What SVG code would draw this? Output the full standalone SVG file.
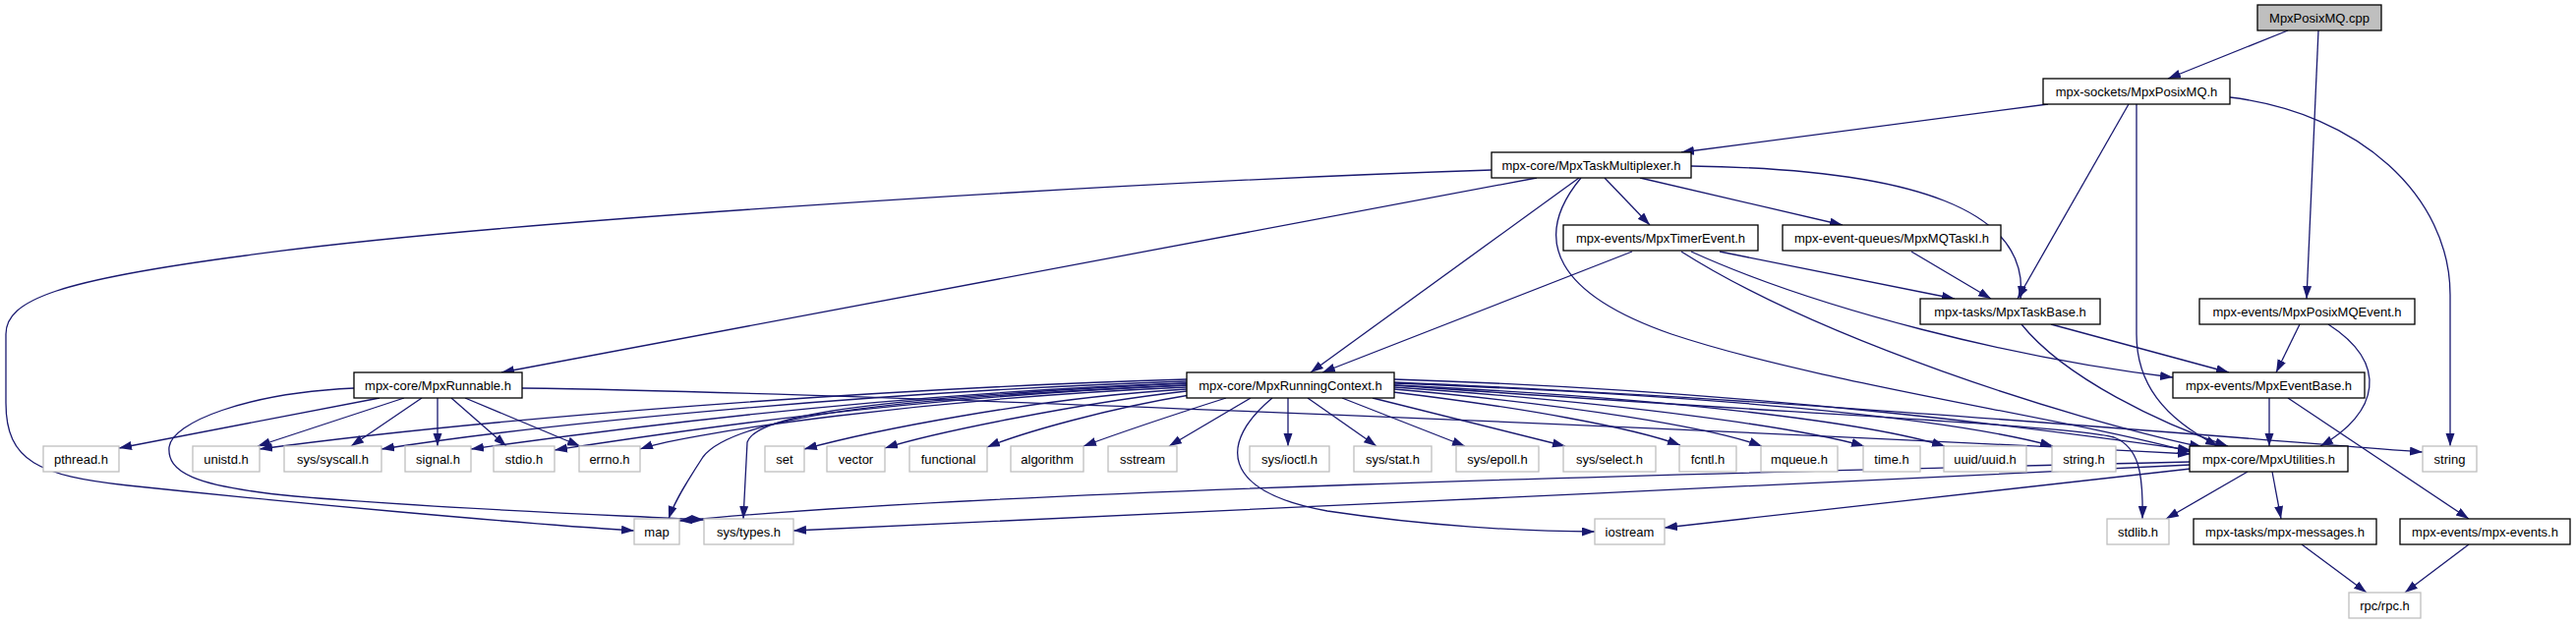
<svg xmlns="http://www.w3.org/2000/svg" width="2620" height="635" viewBox="0 0 2620 635">
<defs>
<marker id="a" markerUnits="userSpaceOnUse" markerWidth="14" markerHeight="10" refX="13" refY="4.5" orient="auto">
<path d="M0,0 L13,4.5 L0,9 z" fill="#191970"/>
</marker>
<style>
.n rect{fill:#fff;stroke:#000;stroke-width:1.3}
.r rect{fill:#bfbfbf;stroke:#000;stroke-width:1.3}
.l rect{fill:#fff;stroke:#bfbfbf;stroke-width:1.3}
text{font-family:"Liberation Sans",Arial,Helvetica,sans-serif;font-size:13px;text-anchor:middle;fill:#000}
#edges path{fill:none;stroke:#191970;stroke-width:1.3;marker-end:url(#a)}
</style>
</defs>
<rect width="2620" height="635" fill="#fff"/>
<g id="edges">
<path d="M2327,31 L2205,80"/>
<path d="M2358,31 L2346,304"/>
<path d="M2083,106 L1710,155"/>
<path d="M2165,106 L2052,304"/>
<path d="M2173,106 L2173,340 C2173,390 2200,425 2256,454"/>
<path d="M2268,99 C2400,115 2492,200 2492,300 L2492,454"/>
<path d="M1517,173 C1150,185 500,225 250,260 C60,285 6,305 6,340 L6,410 C6,470 40,484 130,494 C300,512 520,532 645,540"/>
<path d="M1563,181 L510,379"/>
<path d="M1606,181 L1333,379"/>
<path d="M1632,181 L1678,229"/>
<path d="M1668,181 L1874,229"/>
<path d="M1720,169 C1950,172 2065,215 2055,304"/>
<path d="M1608,181 C1555,245 1585,300 1700,340 C1850,390 2100,425 2228,460"/>
<path d="M1660,256 L1345,379"/>
<path d="M1749,256 L1988,304"/>
<path d="M1720,256 C1850,315 2050,365 2210,384"/>
<path d="M1710,256 C1850,345 2100,425 2240,455"/>
<path d="M1944,256 L2025,304"/>
<path d="M2086,330 L2267,379"/>
<path d="M2056,330 C2100,385 2200,432 2266,454"/>
<path d="M2339,330 L2315,379"/>
<path d="M2368,330 C2430,370 2420,420 2360,454"/>
<path d="M2308,405 L2308,454"/>
<path d="M2327,405 L2511,528"/>
<path d="M2286,480 L2203,528"/>
<path d="M2311,480 L2320,528"/>
<path d="M2341,554 L2407,603"/>
<path d="M2511,554 L2446,603"/>
<path d="M2228,477 L1693,537"/>
<path d="M2228,473 C1800,495 1100,525 807,540"/>
<path d="M2228,470 C1700,482 1000,500 691,530"/>
<path d="M1418,386 C1800,398 2100,440 2228,458"/>
<path d="M1418,389 C1800,405 2200,440 2464,460"/>
<path d="M1418,392 C1800,420 2100,432 2150,445 C2175,455 2180,480 2179,528"/>
<path d="M1418,390 C1800,405 2000,430 2088,454"/>
<path d="M1418,392 C1700,405 1900,430 1978,454"/>
<path d="M1418,394 C1650,410 1830,435 1896,454"/>
<path d="M1418,396 C1600,412 1740,435 1792,454"/>
<path d="M1417,399 C1550,415 1660,435 1709,453"/>
<path d="M1396,405 L1592,454"/>
<path d="M1365,405 L1490,454"/>
<path d="M1330,405 L1400,454"/>
<path d="M1310,405 L1310,454"/>
<path d="M1272,405 L1189,454"/>
<path d="M1247,405 C1200,420 1140,440 1102,454"/>
<path d="M1210,402 C1130,415 1040,440 1004,455"/>
<path d="M1207,398 C1100,410 950,440 900,456"/>
<path d="M1207,396 C1050,405 880,440 818,457"/>
<path d="M1207,394 C950,405 700,440 651,457"/>
<path d="M1207,392 C900,405 650,445 564,458"/>
<path d="M1207,390 C900,400 600,440 479,457"/>
<path d="M1207,388 C900,398 560,430 388,457"/>
<path d="M1207,386 C900,395 500,425 264,457"/>
<path d="M1207,392 C900,405 745,425 715,465 C700,488 686,510 680,528"/>
<path d="M1207,390 C900,405 770,420 760,450 L756,528"/>
<path d="M1294,405 C1240,450 1240,500 1350,520 C1450,535 1550,541 1622,541"/>
<path d="M386,405 L121,456"/>
<path d="M411,405 L262,454"/>
<path d="M429,405 L357,454"/>
<path d="M445,405 L445,454"/>
<path d="M459,405 L515,454"/>
<path d="M473,405 L590,454"/>
<path d="M360,395 C250,400 175,430 172,455 C170,480 195,495 300,505 C450,518 620,524 716,529"/>
<path d="M531,395 C900,400 1800,440 2228,462"/>
</g>
<g id="n_cpp" class="r"><rect x="2296" y="5" width="126" height="26"/><text x="2359" y="22.5">MpxPosixMQ.cpp</text></g>
<g id="n_posixmq" class="n"><rect x="2078" y="80" width="190" height="26"/><text x="2173" y="97.5">mpx-sockets/MpxPosixMQ.h</text></g>
<g id="n_mux" class="n"><rect x="1517" y="155" width="203" height="26"/><text x="1618.5" y="172.5">mpx-core/MpxTaskMultiplexer.h</text></g>
<g id="n_timer" class="n"><rect x="1590" y="229" width="198" height="26"/><text x="1689" y="246.5">mpx-events/MpxTimerEvent.h</text></g>
<g id="n_mqtaski" class="n"><rect x="1813" y="229" width="222" height="26"/><text x="1924" y="246.5">mpx-event-queues/MpxMQTaskI.h</text></g>
<g id="n_taskbase" class="n"><rect x="1953" y="304" width="183" height="26"/><text x="2044.5" y="321.5">mpx-tasks/MpxTaskBase.h</text></g>
<g id="n_posixmqevent" class="n"><rect x="2237" y="304" width="219" height="26"/><text x="2346.5" y="321.5">mpx-events/MpxPosixMQEvent.h</text></g>
<g id="n_runnable" class="n"><rect x="360" y="379" width="171" height="26"/><text x="445.5" y="396.5">mpx-core/MpxRunnable.h</text></g>
<g id="n_rc" class="n"><rect x="1207" y="379" width="211" height="26"/><text x="1312.5" y="396.5">mpx-core/MpxRunningContext.h</text></g>
<g id="n_eventbase" class="n"><rect x="2210" y="379" width="195" height="26"/><text x="2307.5" y="396.5">mpx-events/MpxEventBase.h</text></g>
<g id="n_utilities" class="n"><rect x="2227" y="454" width="161" height="26"/><text x="2307.5" y="471.5">mpx-core/MpxUtilities.h</text></g>
<g id="n_pthread" class="l"><rect x="44" y="454" width="77" height="26"/><text x="82.5" y="471.5">pthread.h</text></g>
<g id="n_unistd" class="l"><rect x="196" y="454" width="68" height="26"/><text x="230" y="471.5">unistd.h</text></g>
<g id="n_syscall" class="l"><rect x="289" y="454" width="99" height="26"/><text x="338.5" y="471.5">sys/syscall.h</text></g>
<g id="n_signal" class="l"><rect x="412" y="454" width="67" height="26"/><text x="445.5" y="471.5">signal.h</text></g>
<g id="n_stdio" class="l"><rect x="502" y="454" width="62" height="26"/><text x="533" y="471.5">stdio.h</text></g>
<g id="n_errno" class="l"><rect x="589" y="454" width="62" height="26"/><text x="620" y="471.5">errno.h</text></g>
<g id="n_set" class="l"><rect x="778" y="454" width="40" height="26"/><text x="798" y="471.5">set</text></g>
<g id="n_vector" class="l"><rect x="841" y="454" width="59" height="26"/><text x="870.5" y="471.5">vector</text></g>
<g id="n_functional" class="l"><rect x="925" y="454" width="79" height="26"/><text x="964.5" y="471.5">functional</text></g>
<g id="n_algorithm" class="l"><rect x="1028" y="454" width="74" height="26"/><text x="1065" y="471.5">algorithm</text></g>
<g id="n_sstream" class="l"><rect x="1127" y="454" width="70" height="26"/><text x="1162" y="471.5">sstream</text></g>
<g id="n_ioctl" class="l"><rect x="1271" y="454" width="81" height="26"/><text x="1311.5" y="471.5">sys/ioctl.h</text></g>
<g id="n_stat" class="l"><rect x="1377" y="454" width="79" height="26"/><text x="1416.5" y="471.5">sys/stat.h</text></g>
<g id="n_epoll" class="l"><rect x="1481" y="454" width="84" height="26"/><text x="1523" y="471.5">sys/epoll.h</text></g>
<g id="n_select" class="l"><rect x="1590" y="454" width="94" height="26"/><text x="1637" y="471.5">sys/select.h</text></g>
<g id="n_fcntl" class="l"><rect x="1708" y="454" width="58" height="26"/><text x="1737" y="471.5">fcntl.h</text></g>
<g id="n_mqueue" class="l"><rect x="1791" y="454" width="78" height="26"/><text x="1830" y="471.5">mqueue.h</text></g>
<g id="n_time" class="l"><rect x="1895" y="454" width="58" height="26"/><text x="1924" y="471.5">time.h</text></g>
<g id="n_uuid" class="l"><rect x="1977" y="454" width="84" height="26"/><text x="2019" y="471.5">uuid/uuid.h</text></g>
<g id="n_stringh" class="l"><rect x="2087" y="454" width="65" height="26"/><text x="2119.5" y="471.5">string.h</text></g>
<g id="n_string" class="l"><rect x="2464" y="454" width="55" height="26"/><text x="2491.5" y="471.5">string</text></g>
<g id="n_map" class="l"><rect x="645" y="528" width="46" height="26"/><text x="668" y="545.5">map</text></g>
<g id="n_systypes" class="l"><rect x="716" y="528" width="91" height="26"/><text x="761.5" y="545.5">sys/types.h</text></g>
<g id="n_iostream" class="l"><rect x="1622" y="528" width="71" height="26"/><text x="1657.5" y="545.5">iostream</text></g>
<g id="n_stdlib" class="l"><rect x="2143" y="528" width="63" height="26"/><text x="2174.5" y="545.5">stdlib.h</text></g>
<g id="n_messages" class="n"><rect x="2231" y="528" width="186" height="26"/><text x="2324" y="545.5">mpx-tasks/mpx-messages.h</text></g>
<g id="n_mpxevents" class="n"><rect x="2441" y="528" width="173" height="26"/><text x="2527.5" y="545.5">mpx-events/mpx-events.h</text></g>
<g id="n_rpc" class="l"><rect x="2389" y="603" width="73" height="26"/><text x="2425.5" y="620.5">rpc/rpc.h</text></g>
</svg>
